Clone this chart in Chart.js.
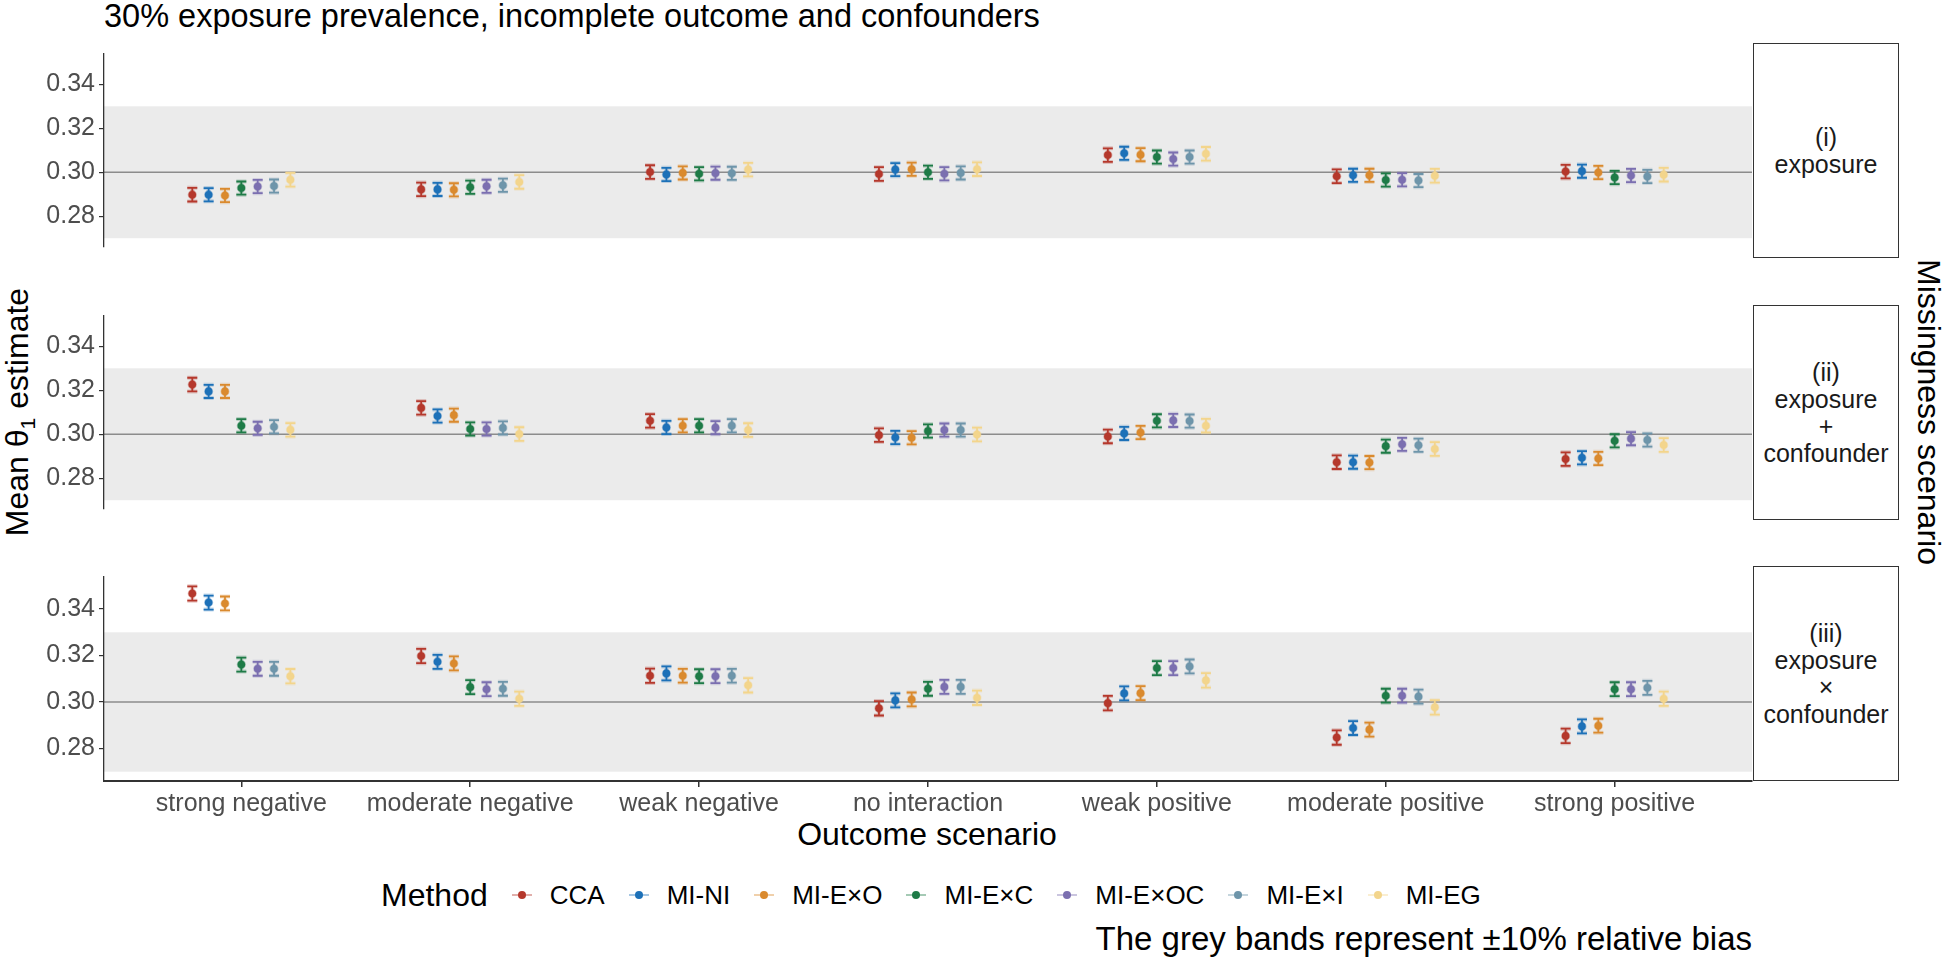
<!DOCTYPE html>
<html>
<head>
<meta charset="utf-8">
<script src="https://cdn.jsdelivr.net/npm/chart.js@4.4.1/dist/chart.umd.min.js"></script>
<style>
  html, body { margin: 0; padding: 0; background: #fff; }
  body {
    width: 1946px; height: 964px; position: relative; overflow: hidden;
    font-family: 'Liberation Sans', Arial, Helvetica, sans-serif; color: #000;
  }
  canvas.panel { position: absolute; left: 0; }
  .txt { position: absolute; white-space: nowrap; }
  .strip {
    position: absolute; left: 1753px; width: 146px; box-sizing: border-box;
    border: 1px solid #333; background: #fff; color: #1a1a1a;
    display: flex; align-items: center; justify-content: center; text-align: center;
    font-size: 25px; line-height: 27px;
  }
  #legend { position: absolute; left: 381px; top: 878px; height: 34px; display: flex; align-items: center; white-space: nowrap; }
  #legend .lg-title { font-size: 32px; line-height: 32px; }
  #legend .lg-key { position: relative; width: 24px; height: 24px; margin: 0 16px 0 22px; }
  #legend .lg-key::before {
    content: ''; position: absolute; left: 2px; right: 2px; top: 11px; height: 2px;
    background: var(--c); opacity: .4;
  }
  #legend .lg-key::after {
    content: ''; position: absolute; left: 8px; top: 8px; width: 8px; height: 8px;
    border-radius: 50%; background: var(--c);
  }
  #legend .lg-label { font-size: 26px; line-height: 26px; color: #000; }
</style>
</head>
<body>
<div class="txt" style="left:104px; top:0px; font-size:32.5px; line-height:32px;">30% exposure prevalence, incomplete outcome and confounders</div>
<div class="txt" style="left:17px; top:412px; font-size:32px; line-height:32px; transform:translate(-50%,-50%) rotate(-90deg);">Mean θ<sub style="font-size:21px; line-height:0;">1</sub> estimate</div>
<div class="txt" style="left:1929px; top:412px; font-size:32px; line-height:32px; transform:translate(-50%,-50%) rotate(90deg);">Missingness scenario</div>
<div class="txt" style="left:927px; top:818px; font-size:32px; line-height:32px; transform:translateX(-50%);">Outcome scenario</div>
<div id="legend"><span class="lg-title">Method</span></div>
<div class="txt" style="right:194px; top:922px; font-size:33px; line-height:33px;">The grey bands represent ±10% relative bias</div>

<script>
// values
const categories = ['strong negative', 'moderate negative', 'weak negative', 'no interaction',
  'weak positive', 'moderate positive', 'strong positive'];
const methods = ['CCA', 'MI-NI', 'MI-E×O', 'MI-E×C', 'MI-E×OC', 'MI-E×I', 'MI-EG'];
const methodColors = ['#B5382C', '#1D71B8', '#DA8A2E', '#1E7B47', '#7B6FB0', '#6E95AA', '#F3D58C'];
const ciHalfWidth = [0.0031, 0.0030, 0.0030, 0.0030, 0.0030, 0.0030, 0.0031];

const panelLabels = [
  ['(i)', 'exposure'],
  ['(ii)', 'exposure', '+', 'confounder'],
  ['(iii)', 'exposure', '×', 'confounder']
];

// rows: methods (same order as above), columns: categories
const meansExposure = [
  [0.2898, 0.2922, 0.3001, 0.2992, 0.3078, 0.2982, 0.3003],
  [0.2898, 0.2922, 0.2990, 0.3012, 0.3086, 0.2986, 0.3005],
  [0.2894, 0.2920, 0.2997, 0.3014, 0.3080, 0.2986, 0.2999],
  [0.2928, 0.2932, 0.2993, 0.3000, 0.3069, 0.2965, 0.2976],
  [0.2935, 0.2936, 0.2996, 0.2993, 0.3060, 0.2966, 0.2985],
  [0.2937, 0.2941, 0.2995, 0.2997, 0.3069, 0.2962, 0.2981],
  [0.2966, 0.2956, 0.3012, 0.3014, 0.3084, 0.2984, 0.2989]
];
const meansExposurePlusConf = [
  [0.3226, 0.3120, 0.3061, 0.2996, 0.2990, 0.2873, 0.2887],
  [0.3195, 0.3083, 0.3031, 0.2985, 0.3004, 0.2873, 0.2893],
  [0.3195, 0.3087, 0.3039, 0.2984, 0.3008, 0.2871, 0.2890],
  [0.3039, 0.3024, 0.3039, 0.3015, 0.3061, 0.2946, 0.2970],
  [0.3027, 0.3024, 0.3030, 0.3019, 0.3063, 0.2954, 0.2980],
  [0.3034, 0.3029, 0.3039, 0.3019, 0.3060, 0.2950, 0.2974],
  [0.3020, 0.3001, 0.3019, 0.2999, 0.3039, 0.2933, 0.2951]
];
const meansExposureTimesConf = [
  [0.3467, 0.3198, 0.3113, 0.2973, 0.2995, 0.2847, 0.2854],
  [0.3428, 0.3173, 0.3123, 0.3007, 0.3037, 0.2888, 0.2895],
  [0.3424, 0.3166, 0.3113, 0.3011, 0.3038, 0.2881, 0.2898],
  [0.3161, 0.3064, 0.3111, 0.3057, 0.3146, 0.3027, 0.3055],
  [0.3143, 0.3055, 0.3111, 0.3065, 0.3146, 0.3027, 0.3055],
  [0.3143, 0.3057, 0.3113, 0.3065, 0.3153, 0.3023, 0.3061],
  [0.3111, 0.3014, 0.3072, 0.3018, 0.3093, 0.2977, 0.3014]
];

const yTicks = [0.28, 0.30, 0.32, 0.34];
const yRange = [0.266, 0.3538];
const biasBand = [0.27, 0.33];
const trueValue = 0.30;
const dodgeWidth = 0.5;

(function () {
  const FONT = "'Liberation Sans', Arial, Helvetica, sans-serif";
  const PAGE_W = 1946;
  const PANEL_LEFT = 104;
  const PANEL_RIGHT = 1752;
  const PANEL_TOPS = [43, 305, 566];
  const PANEL_H = 215;
  const PAD = 8;
  const X_AXIS_H = 48;
  const panelMeans = [meansExposure, meansExposurePlusConf, meansExposureTimesConf];

  function rgba(hex, a) {
    const n = parseInt(hex.slice(1), 16);
    return `rgba(${n >> 16},${(n >> 8) & 255},${n & 255},${a})`;
  }

  const panelDecor = {
    id: 'panelDecor',
    beforeDraw(chart) {
      const { ctx, chartArea: a, scales: { y } } = chart;
      const yTop = y.getPixelForValue(biasBand[1]);
      const yBot = y.getPixelForValue(biasBand[0]);
      ctx.save();
      ctx.fillStyle = '#ebebeb';
      ctx.fillRect(a.left, yTop, a.right - a.left, yBot - yTop);
      const y0 = y.getPixelForValue(trueValue);
      ctx.strokeStyle = '#8c8c8c';
      ctx.lineWidth = 1.6;
      ctx.beginPath();
      ctx.moveTo(a.left, y0);
      ctx.lineTo(a.right, y0);
      ctx.stroke();
      ctx.restore();
    },
    beforeDatasetsDraw(chart) {
      const { ctx, scales: { y } } = chart;
      ctx.save();
      chart.data.datasets.forEach((ds, i) => {
        const meta = chart.getDatasetMeta(i);
        const col = methodColors[i];
        meta.data.forEach((pt, j) => {
          const d = ds.data[j];
          const yLo = y.getPixelForValue(d.lo);
          const yHi = y.getPixelForValue(d.hi);
          const cap = 5;
          [[rgba(col, 0.25), 4], [col, 1.8]].forEach(([c, w]) => {
            ctx.strokeStyle = c;
            ctx.lineWidth = w;
            ctx.beginPath();
            ctx.moveTo(pt.x, yLo); ctx.lineTo(pt.x, yHi);
            ctx.moveTo(pt.x - cap, yLo); ctx.lineTo(pt.x + cap, yLo);
            ctx.moveTo(pt.x - cap, yHi); ctx.lineTo(pt.x + cap, yHi);
            ctx.stroke();
          });
        });
      });
      ctx.restore();
    }
  };

  function buildDatasets(means) {
    return methods.map((m, k) => {
      const offset = (k - (methods.length - 1) / 2) * dodgeWidth / methods.length;
      return {
        label: m,
        data: means[k].map((v, j) => ({
          x: j + 1 + offset, y: v, lo: v - ciHalfWidth[k], hi: v + ciHalfWidth[k]
        })),
        backgroundColor: methodColors[k],
        borderColor: rgba(methodColors[k], 0.35),
        pointRadius: 3.8,
        pointHoverRadius: 3.8,
        pointBorderWidth: 1.6
      };
    });
  }

  function makePanel(p) {
    const isBottom = p === panelMeans.length - 1;
    const h = PAD + PANEL_H + (isBottom ? X_AXIS_H : PAD);
    const canvas = document.createElement('canvas');
    canvas.className = 'panel';
    canvas.width = PAGE_W;
    canvas.height = h;
    canvas.style.width = PAGE_W + 'px';
    canvas.style.height = h + 'px';
    canvas.style.top = (PANEL_TOPS[p] - PAD) + 'px';
    document.body.appendChild(canvas);

    new Chart(canvas.getContext('2d'), {
      type: 'scatter',
      data: { datasets: buildDatasets(panelMeans[p]) },
      options: {
        responsive: false,
        devicePixelRatio: 1,
        animation: false,
        events: [],
        layout: {
          autoPadding: false,
          padding: { left: 0, right: PAGE_W - PANEL_RIGHT, top: PAD, bottom: isBottom ? 0 : PAD }
        },
        scales: {
          x: {
            type: 'linear', min: 0.4, max: 7.6,
            display: isBottom,
            afterBuildTicks: ax => { ax.ticks = categories.map((c, i) => ({ value: i + 1 })); },
            afterFit: ax => { ax.height = isBottom ? X_AXIS_H : 0; },
            grid: { display: true, drawOnChartArea: false, drawTicks: true, tickLength: 6, color: '#333', lineWidth: 1.5 },
            border: { display: true, color: '#333', width: 2 },
            ticks: {
              autoSkip: false, maxRotation: 0, minRotation: 0, padding: 2,
              color: '#4d4d4d', font: { family: FONT, size: 25 },
              callback: v => categories[Math.round(v) - 1]
            }
          },
          y: {
            type: 'linear', min: yRange[0], max: yRange[1],
            afterBuildTicks: ax => { ax.ticks = yTicks.map(v => ({ value: v })); },
            afterFit: ax => { ax.width = PANEL_LEFT; },
            grid: { drawOnChartArea: false, drawTicks: true, tickLength: 5, color: '#333', lineWidth: 1.2 },
            border: { display: true, color: '#333', width: 1.3 },
            ticks: {
              padding: 4, color: '#4d4d4d', font: { family: FONT, size: 25 },
              callback: v => Number(v).toFixed(2)
            }
          }
        },
        plugins: {
          legend: { display: false },
          tooltip: { enabled: false }
        }
      },
      plugins: [panelDecor]
    });

    const strip = document.createElement('div');
    strip.className = 'strip';
    strip.style.top = PANEL_TOPS[p] + 'px';
    strip.style.height = PANEL_H + 'px';
    strip.innerHTML = panelLabels[p].join('<br>');
    document.body.appendChild(strip);
  }

  function buildLegend() {
    const legend = document.getElementById('legend');
    methods.forEach((m, i) => {
      const key = document.createElement('span');
      key.className = 'lg-key';
      key.style.setProperty('--c', methodColors[i]);
      const label = document.createElement('span');
      label.className = 'lg-label';
      label.textContent = m;
      legend.appendChild(key);
      legend.appendChild(label);
    });
  }

  panelMeans.forEach((m, p) => makePanel(p));
  buildLegend();
})();
</script>
</body>
</html>
